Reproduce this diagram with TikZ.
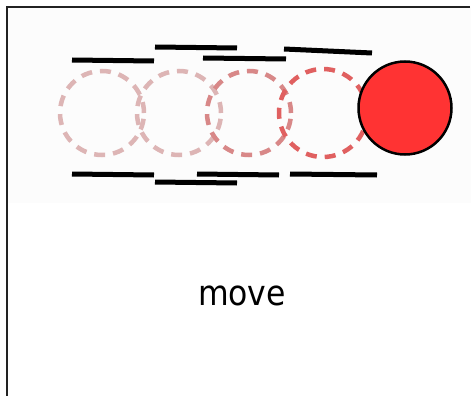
\documentclass[tikz,border=0pt]{standalone}
\usepackage{fontspec}
\setmainfont{DejaVu Sans Condensed}
\definecolor{BallRed}{RGB}{255,51,51}
\definecolor{TrailFaint}{RGB}{221,181,181}
\definecolor{TrailMid}{RGB}{216,136,136}
\definecolor{TrailStrong}{RGB}{224,96,96}
\definecolor{PanelGray}{RGB}{252,252,252}
\definecolor{FrameGray}{RGB}{34,34,34}
\usetikzlibrary{positioning}

\begin{document}
\begin{tikzpicture}[x=1pt, y=-1pt,
    ghost/.style={circle, minimum size=84pt, inner sep=0pt, line width=4.5pt, dash pattern=on 11pt off 8pt},
    ball/.style={circle, minimum size=93pt, inner sep=0pt, draw=black, line width=2.5pt, fill=BallRed},
    bar/.style={line width=5pt, black}]
          \useasboundingbox (0,0) rectangle (471,396);
          \fill[PanelGray] (8,8) rectangle (471,203);
          \draw[FrameGray, line width=2.5pt] (470,7) -- (7,7) -- (7,396);
          % trail of the ball
          \node[ghost, draw=TrailFaint] (g1) at (102,113) {};
          \node[ghost, draw=TrailFaint] (g2) at (179,113) {};
          \node[ghost, draw=TrailMid] (g3) at (249,113) {};
          \node[ghost, draw=TrailStrong, minimum size=88pt] (g4) at (323,113) {};
          \node[ball] (b) at (405,108) {};
          % walls
          \draw[bar] (72,60) -- (154,61);
          \draw[bar] (155,47) -- (237,48);
          \draw[bar] (203,58) -- (286,59);
          \draw[bar] (284,49) -- (372,53);
          \draw[bar] (72,174) -- (154,175);
          \draw[bar] (155,182) -- (237,183);
          \draw[bar] (197,174) -- (279,175);
          \draw[bar] (290,174) -- (377,175);
          \node[font=\fontsize{35}{40}\selectfont] (lbl) at (242,296) {move};
        \end{tikzpicture}
\end{document}
